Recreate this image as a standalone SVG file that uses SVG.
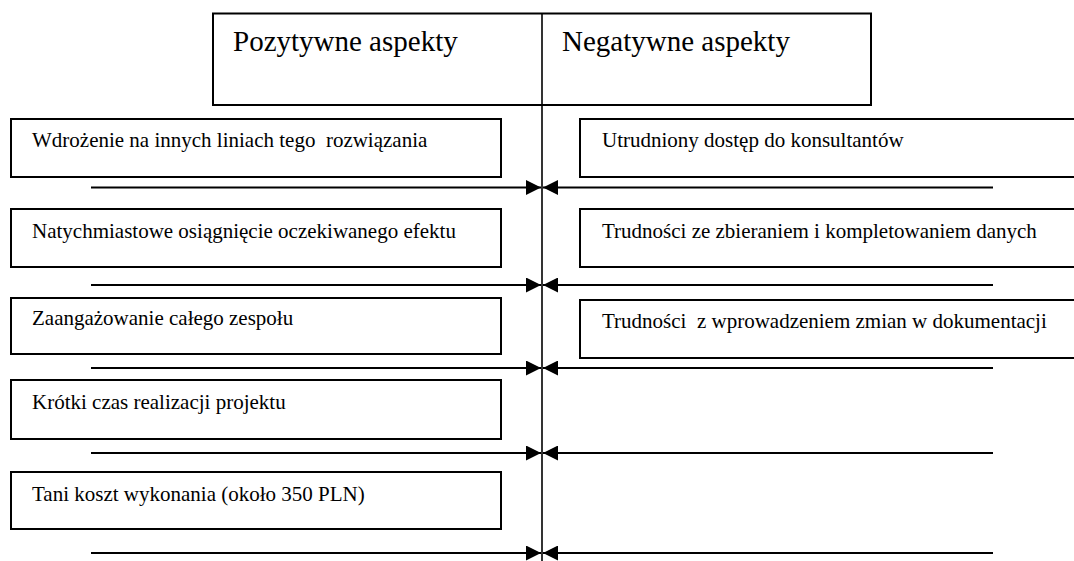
<svg xmlns="http://www.w3.org/2000/svg" width="1074" height="561" viewBox="0 0 1074 561">
  <style>
    .box { fill: #ffffff; stroke: #000000; stroke-width: 2; }
    .head { font-family: "Liberation Serif", "Times New Roman", serif; font-size: 29px; fill: #000000; }
    .item { font-family: "Liberation Serif", "Times New Roman", serif; font-size: 21px; fill: #000000; }
    .link { stroke: #000000; stroke-width: 2; fill: none; }
    .axis { stroke: #000000; stroke-width: 1.6; fill: none; }
  </style>
  <defs>
    <marker id="arrow" viewBox="0 0 15 15" refX="15" refY="7.5" markerWidth="15" markerHeight="15" markerUnits="userSpaceOnUse" orient="auto">
      <path d="M0,0 L15,7.5 L0,15 Z" fill="#000000"/>
    </marker>
  </defs>

  <rect width="1074" height="561" fill="#ffffff"/>

  <!-- header -->
  <g id="header">
    <rect class="box" x="213" y="13.5" width="658" height="91.5"/>
    <text class="head" x="233" y="51" font-family="Liberation Serif, serif">Pozytywne aspekty</text>
    <text class="head" x="562" y="51" font-family="Liberation Serif, serif">Negatywne aspekty</text>
  </g>

  <!-- positive side -->
  <g id="pos1">
    <rect class="box" x="11" y="119" width="490" height="58"/>
    <text class="item" x="32" y="147" font-family="Liberation Serif, serif" xml:space="preserve">Wdrożenie na innych liniach tego  rozwiązania</text>
  </g>
  <g id="pos2">
    <rect class="box" x="11" y="209" width="490" height="58"/>
    <text class="item" x="32" y="238" font-family="Liberation Serif, serif">Natychmiastowe osiągnięcie oczekiwanego efektu</text>
  </g>
  <g id="pos3">
    <rect class="box" x="11" y="298" width="490" height="56"/>
    <text class="item" x="32" y="325" font-family="Liberation Serif, serif">Zaangażowanie całego zespołu</text>
  </g>
  <g id="pos4">
    <rect class="box" x="11" y="380" width="490" height="59"/>
    <text class="item" x="32" y="409" font-family="Liberation Serif, serif">Krótki czas realizacji projektu</text>
  </g>
  <g id="pos5">
    <rect class="box" x="11" y="472" width="490" height="57"/>
    <text class="item" x="32" y="501" font-family="Liberation Serif, serif">Tani koszt wykonania (około 350 PLN)</text>
  </g>

  <!-- negative side -->
  <g id="neg1">
    <rect class="box" x="580" y="119" width="510" height="58"/>
    <text class="item" x="602" y="147" font-family="Liberation Serif, serif">Utrudniony dostęp do konsultantów</text>
  </g>
  <g id="neg2">
    <rect class="box" x="580" y="209" width="510" height="58"/>
    <text class="item" x="602" y="238" font-family="Liberation Serif, serif">Trudności ze zbieraniem i kompletowaniem danych</text>
  </g>
  <g id="neg3">
    <rect class="box" x="580" y="300" width="510" height="58"/>
    <text class="item" x="602" y="328" font-family="Liberation Serif, serif" xml:space="preserve">Trudności  z wprowadzeniem zmian w dokumentacji</text>
  </g>

  <!-- connectors -->
  <g id="connectors">
    <line class="axis" x1="542" y1="13.5" x2="542" y2="561"/>

    <line class="link" x1="91" y1="187.5" x2="541" y2="187.5" marker-end="url(#arrow)"/>
    <line class="link" x1="993" y1="187.5" x2="543" y2="187.5" marker-end="url(#arrow)"/>

    <line class="link" x1="91" y1="285" x2="541" y2="285" marker-end="url(#arrow)"/>
    <line class="link" x1="993" y1="285" x2="543" y2="285" marker-end="url(#arrow)"/>

    <line class="link" x1="91" y1="368" x2="541" y2="368" marker-end="url(#arrow)"/>
    <line class="link" x1="993" y1="368" x2="543" y2="368" marker-end="url(#arrow)"/>

    <line class="link" x1="91" y1="453" x2="541" y2="453" marker-end="url(#arrow)"/>
    <line class="link" x1="993" y1="453" x2="543" y2="453" marker-end="url(#arrow)"/>

    <line class="link" x1="91" y1="553" x2="541" y2="553" marker-end="url(#arrow)"/>
    <line class="link" x1="993" y1="553" x2="543" y2="553" marker-end="url(#arrow)"/>
  </g>
</svg>
